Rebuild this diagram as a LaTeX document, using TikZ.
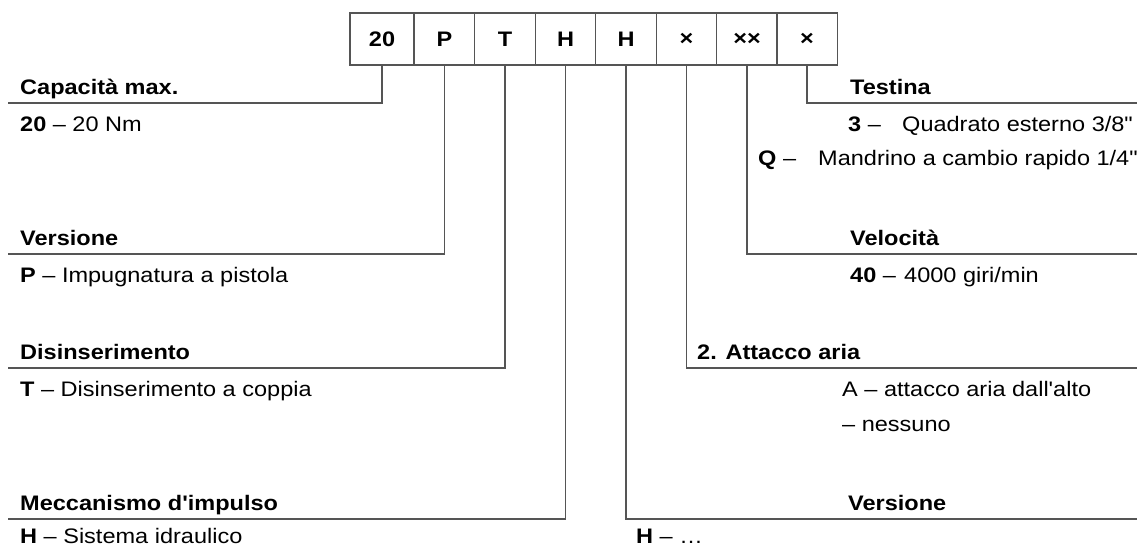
\documentclass[tikz,border=0pt]{standalone}
\usepackage{fontspec}
\usepackage{xcolor}
\setmainfont{Liberation Sans}[Ligatures=TeXOff, FakeStretch=1.12]
\usepackage{tikz}

\definecolor{leadgray}{RGB}{85,85,85}
\newcommand\labsize{\fontsize{21}{25}\selectfont}

\tikzset{
codebox/.style = {draw=leadgray, line width=1.2pt, minimum height=52pt,
                  minimum width=60.5pt, inner sep=0pt, font=\labsize\bfseries},
leader/.style  = {draw=leadgray, line width=1.2pt},
label/.style   = {anchor=base west, inner sep=0pt, font=\labsize},
head/.style    = {label, font=\labsize\bfseries}
}

\begin{document}
\begin{tikzpicture}[x=1pt, y=-1pt]
%\draw[help lines] (0,0) grid[step=50] (1137,547);
\useasboundingbox (0,0) rectangle (1137,547);

% type code
\node[codebox, minimum width=64pt] (b1) at (382,39) {20};
\node[codebox] (b2) at (444.5,39) {P};
\node[codebox] (b3) at (505,39) {T};
\node[codebox] (b4) at (565.5,39) {H};
\node[codebox] (b5) at (626,39) {H};
\node[codebox] (b6) at (686.5,39) {×};
\node[codebox] (b7) at (747,39) {××};
\node[codebox] (b8) at (807,39) {×};

% line ends
\coordinate (capL) at (8,103);
\coordinate (verL) at (8,254);
\coordinate (disL) at (8,368);
\coordinate (mecL) at (8,519);
\coordinate (tesR) at (1137,103);
\coordinate (velR) at (1137,254);
\coordinate (attR) at (1137,368);
\coordinate (verR) at (1137,519);

\path[leader]
(b1.south) edge[to path={|- (\tikztotarget)}] (capL)
(b2.south) edge[to path={|- (\tikztotarget)}] (verL)
(b3.south) edge[to path={|- (\tikztotarget)}] (disL)
(b4.south) edge[to path={|- (\tikztotarget)}] (mecL)
(b5.south) edge[to path={|- (\tikztotarget)}] (verR)
(b6.south) edge[to path={|- (\tikztotarget)}] (attR)
(b7.south) edge[to path={|- (\tikztotarget)}] (velR)
(b8.south) edge[to path={|- (\tikztotarget)}] (tesR);

% left side
\node[head]  (cap)  at (20,94)  {Capacità max.};
\node[label] (cap1) at (20,131) {\textbf{20} – 20 Nm};
\node[head]  (ver)  at (20,245) {Versione};
\node[label] (ver1) at (20,282) {\textbf{P} – Impugnatura a pistola};
\node[head]  (dis)  at (20,359) {Disinserimento};
\node[label] (dis1) at (20,396) {\textbf{T} – Disinserimento a coppia};
\node[head]  (mec)  at (20,510) {Meccanismo d'impulso};
\node[label] (mec1) at (20,543) {\textbf{H} – Sistema idraulico};

% right side
\node[head]  (tes)   at (850,94)  {Testina};
\node[label] (tes1)  at (848,131) {\textbf{3} –};
\node[label] (tes1t) at (902,131) {Quadrato esterno 3/8"};
\node[label] (tes2)  at (758,165) {\textbf{Q} –};
\node[label] (tes2t) at (818,165) {Mandrino a cambio rapido 1/4"};
\node[head]  (vel)   at (850,245) {Velocità};
\node[label] (vel1)  at (850,282) {\textbf{40} –};
\node[label] (vel1t) at (904,282) {4000 giri/min};
\node[head]  (att)   at (697,359) {2. Attacco aria};
\node[label] (att1)  at (842,396) {A – attacco aria dall'alto};
\node[label] (att2)  at (842,431) {– nessuno};
\node[head]  (verb)  at (848,510) {Versione};
\node[label] (verb1) at (636,543) {\textbf{H} – …};
\end{tikzpicture}
\end{document}
